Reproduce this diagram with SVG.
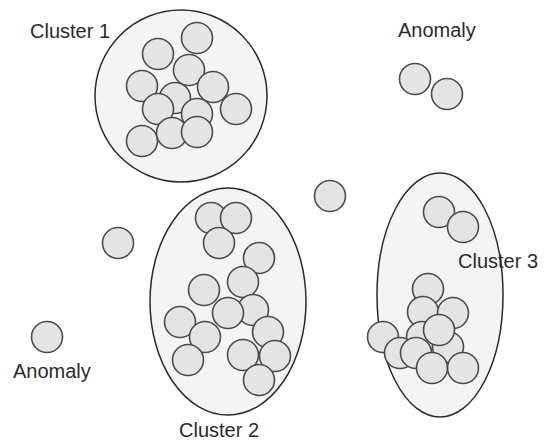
<svg xmlns="http://www.w3.org/2000/svg" width="550" height="443" viewBox="0 0 550 443">
<style>
.bg{fill:#ffffff}
.cl{fill:#f4f4f4;stroke:#2a2a2a;stroke-width:1.5}
.pt{fill:#e4e4e4;stroke:#4a4a4a;stroke-width:1.6}
.lb{font-family:"Liberation Sans",Arial,sans-serif;font-size:20px;fill:#2a2a2a}
</style>
<defs><circle id="p" r="15.5" class="pt"/></defs>
<rect class="bg" width="550" height="443"/>
<g id="cluster1">
<circle class="cl" cx="181" cy="96" r="86"/>
<use href="#p" x="197" y="38"/>
<use href="#p" x="158" y="54"/>
<use href="#p" x="189" y="70"/>
<use href="#p" x="142" y="86"/>
<use href="#p" x="213" y="87"/>
<use href="#p" x="175" y="98"/>
<use href="#p" x="158" y="109"/>
<use href="#p" x="236" y="109"/>
<use href="#p" x="197" y="114"/>
<use href="#p" x="142" y="141"/>
<use href="#p" x="172" y="133"/>
<use href="#p" x="197" y="132"/>
</g>
<g id="cluster2">
<ellipse class="cl" cx="228" cy="301.5" rx="78" ry="113.5"/>
<use href="#p" x="211" y="218"/>
<use href="#p" x="236" y="218"/>
<use href="#p" x="219" y="243"/>
<use href="#p" x="259" y="258"/>
<use href="#p" x="243" y="282"/>
<use href="#p" x="204" y="290"/>
<use href="#p" x="253" y="310"/>
<use href="#p" x="228" y="313"/>
<use href="#p" x="180" y="322"/>
<use href="#p" x="268" y="332"/>
<use href="#p" x="205" y="337"/>
<use href="#p" x="188" y="360"/>
<use href="#p" x="243" y="355"/>
<use href="#p" x="275" y="356"/>
<use href="#p" x="259" y="380"/>
</g>
<g id="cluster3">
<ellipse class="cl" cx="440" cy="295" rx="63" ry="122"/>
<use href="#p" x="439" y="212"/>
<use href="#p" x="463" y="227"/>
<use href="#p" x="428" y="289"/>
<use href="#p" x="423" y="312"/>
<use href="#p" x="453" y="313"/>
<use href="#p" x="422" y="337"/>
<use href="#p" x="383" y="337"/>
<use href="#p" x="400" y="353"/>
<use href="#p" x="448" y="347"/>
<use href="#p" x="439" y="330"/>
<use href="#p" x="416" y="353"/>
<use href="#p" x="432" y="368"/>
<use href="#p" x="463" y="368"/>
</g>
<g id="anomaly-top">
<use href="#p" x="415" y="79"/>
<use href="#p" x="447" y="94"/>
</g>
<g id="outlier-mid"><use href="#p" x="330" y="196"/></g>
<g id="outlier-left"><use href="#p" x="118" y="243"/></g>
<g id="anomaly-left"><use href="#p" x="47" y="337"/></g>
<g id="labels">
<text class="lb" x="30" y="38">Cluster 1</text>
<text class="lb" x="398" y="37">Anomaly</text>
<text class="lb" x="458" y="268">Cluster 3</text>
<text class="lb" x="13" y="378">Anomaly</text>
<text class="lb" x="179" y="437">Cluster 2</text>
</g>
</svg>
